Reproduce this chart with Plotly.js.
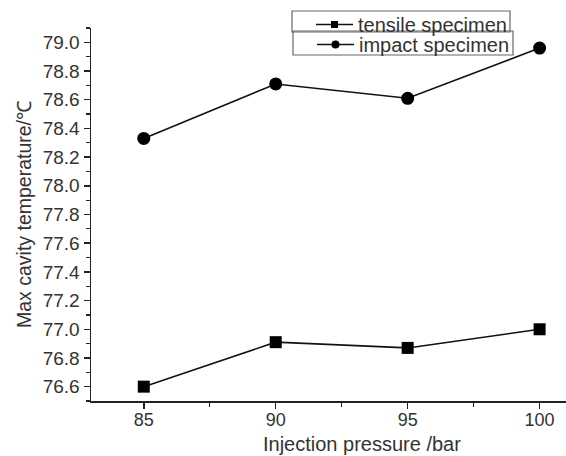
<!DOCTYPE html>
<html>
<head>
<meta charset="utf-8">
<script src="https://cdn.plot.ly/plotly-3.0.1.min.js"></script>
<style>html,body{margin:0;padding:0;background:#fff;}#chart{width:566px;height:456px;}</style>
</head>
<body>
<div id="chart"></div>
<script>
var pressure = [85, 90, 95, 100];
var tensile = [76.60, 76.91, 76.87, 77.00];
var impact = [78.33, 78.71, 78.61, 78.96];
var xTicks = [85, 90, 95, 100];
var yTicks = [76.6, 76.8, 77.0, 77.2, 77.4, 77.6, 77.8, 78.0, 78.2, 78.4, 78.6, 78.8, 79.0];
var seriesNames = ['tensile specimen', 'impact specimen'];
var xTitle = 'Injection pressure /bar';
var yTitle = 'Max cavity temperature/℃';

var fontFam = 'Liberation Sans, Arial, sans-serif';
var data = [
  {x: pressure, y: tensile, name: seriesNames[0], mode: 'lines+markers', type: 'scatter', showlegend: false,
   line: {color: '#111', width: 1.6}, marker: {symbol: 'square', size: 12, color: '#000'}},
  {x: pressure, y: impact, name: seriesNames[1], mode: 'lines+markers', type: 'scatter', showlegend: false,
   line: {color: '#111', width: 1.6}, marker: {symbol: 'circle', size: 13, color: '#000'}},
  // legend entries (small symbols, as in the reference legend)
  {x: [null], y: [null], name: seriesNames[0], mode: 'lines+markers', type: 'scatter', legend: 'legend',
   line: {color: '#111', width: 1.6}, marker: {symbol: 'square', size: 7, color: '#000'}},
  {x: [null], y: [null], name: seriesNames[1], mode: 'lines+markers', type: 'scatter', legend: 'legend2',
   line: {color: '#111', width: 1.6}, marker: {symbol: 'circle', size: 8, color: '#000'}}
];
var pw = 566 - 91, ph = 456 - 28 - 55;
function px2x(px){ return (px - 91) / pw; }
function py2y(py){ return (456 - 55 - py) / ph; }
var legendBase = {
  bgcolor: 'rgba(255,255,255,0)', borderwidth: 0,
  font: {family: fontFam, size: 20, color: '#333'}, xanchor: 'left', yanchor: 'top',
  tracegroupgap: 0, itemwidth: 37, xref: 'paper', yref: 'paper'
};
var layout = {
  width: 566, height: 456,
  margin: {l: 91, r: 0, t: 28, b: 55},
  paper_bgcolor: '#fff', plot_bgcolor: '#fff',
  font: {family: fontFam, color: '#333'},
  showlegend: true,
  legend: Object.assign({}, legendBase, {x: px2x(311), y: py2y(5)}),
  legend2: Object.assign({}, legendBase, {x: px2x(312), y: py2y(25)}),
  shapes: [
    {type: 'rect', xref: 'paper', yref: 'paper', x0: px2x(292), x1: px2x(510), y0: py2y(11), y1: py2y(32),
     line: {color: '#666', width: 1.2}},
    {type: 'rect', xref: 'paper', yref: 'paper', x0: px2x(293), x1: px2x(513), y0: py2y(31), y1: py2y(55),
     line: {color: '#666', width: 1.2}}
  ],
  annotations: [
    {text: xTitle, xref: 'paper', yref: 'paper', x: px2x(362), y: py2y(456), xanchor: 'center', yanchor: 'bottom',
     borderpad: 0, showarrow: false, font: {family: fontFam, size: 20, color: '#333'}}
  ],
  xaxis: {
    range: [83, 101], showgrid: false, zeroline: false,
    showline: true, linecolor: '#222', linewidth: 1.5,
    tickmode: 'array', tickvals: xTicks, ticks: 'outside', ticklen: 6, tickwidth: 1.5, tickcolor: '#222',
    minor: {dtick: 2.5, tick0: 82.5, ticks: 'outside', ticklen: 4, tickwidth: 1.2, tickcolor: '#222'},
    tickfont: {size: 18, color: '#333'}, ticklabelstandoff: -4
  },
  yaxis: {
    range: [76.5, 79.1], showgrid: false, zeroline: false,
    showline: true, linecolor: '#222', linewidth: 1.5,
    tickmode: 'array', tickvals: yTicks, ticktext: yTicks.map(function(v){return v.toFixed(1);}),
    ticks: 'outside', ticklen: 6, tickwidth: 1.5, tickcolor: '#222',
    minor: {dtick: 0.1, tick0: 76.5, ticks: 'outside', ticklen: 4, tickwidth: 1.2, tickcolor: '#222'},
    tickfont: {size: 19, color: '#333'},
    title: {text: yTitle, font: {size: 19.5, color: '#333'}, standoff: 6}
  }
};
Plotly.newPlot('chart', data, layout, {displayModeBar: false, staticPlot: true});
</script>
</body>
</html>
